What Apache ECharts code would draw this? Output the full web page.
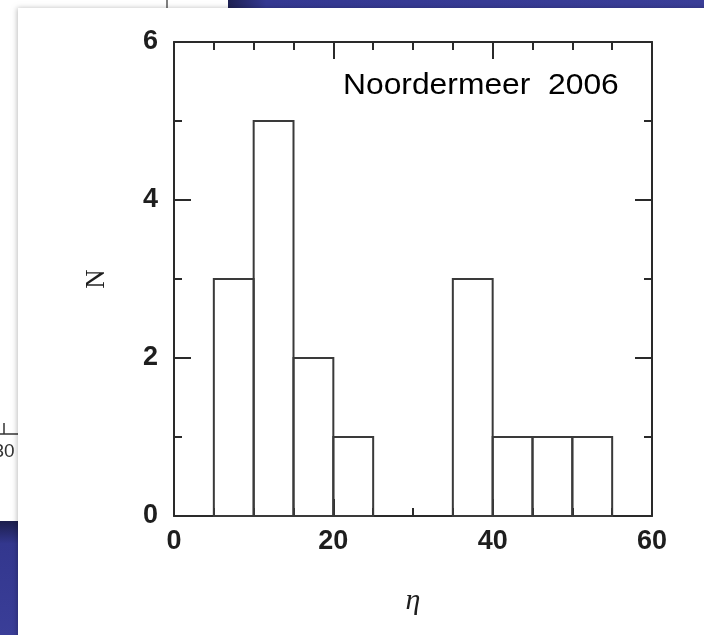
<!DOCTYPE html>
<html>
<head>
<meta charset="utf-8">
<title>Histogram of η</title>
<script src="https://cdn.jsdelivr.net/npm/echarts@6/dist/echarts.min.js"></script>
<style>
  html, body { margin: 0; padding: 0; background: #ffffff; }
  #chart { width: 704px; height: 635px; }
</style>
</head>
<body>
<div id="chart"></div>
<script>
// Histogram bins (η) and their counts N
var binStart = [5, 10, 15, 20, 35, 40, 45, 50];
var binEnd   = [10, 15, 20, 25, 40, 45, 50, 55];
var counts   = [3, 5, 2, 1, 3, 1, 1, 1];

// Axis ranges and tick labels
var xRange = [0, 60];
var xTickLabels = ['0', '20', '40', '60'];
var yRange = [0, 6];
var yTickLabels = ['0', '2', '4', '6'];

var sourceNote = 'Noordermeer  2006';

var bins = binStart.map(function (s, i) { return [s, binEnd[i], counts[i]]; });

var frameColor = '#2a2a2a';
var labelFont = 'Liberation Sans, Arial, Helvetica, sans-serif';

function xLabel(v) { var i = [0, 20, 40, 60].indexOf(v); return i >= 0 ? xTickLabels[i] : ''; }
function yLabel(v) { var i = [0, 2, 4, 6].indexOf(v); return i >= 0 ? yTickLabels[i] : ''; }

function axisCommon(extra) {
  var base = {
    type: 'value',
    axisLine: { show: true, onZero: false, lineStyle: { color: frameColor, width: 2 } },
    axisTick: { show: true, inside: true, length: 17, lineStyle: { color: frameColor, width: 2 } },
    minorTick: { show: true, length: 8, lineStyle: { color: frameColor, width: 2 } },
    splitLine: { show: false },
    minorSplitLine: { show: false }
  };
  for (var k in extra) base[k] = extra[k];
  return base;
}

var chart = echarts.init(document.getElementById('chart'), null, { renderer: 'canvas' });

chart.setOption({
  animation: false,
  backgroundColor: '#ffffff',
  grid: { left: 174, right: 52, top: 42, bottom: 119, containLabel: false },
  xAxis: [
    axisCommon({
      position: 'bottom',
      min: xRange[0], max: xRange[1], interval: 20,
      minorTick: { show: true, splitNumber: 4, length: 8, lineStyle: { color: frameColor, width: 2 } },
      axisLabel: {
        show: true, margin: 12, formatter: xLabel,
        color: '#1e1e1e', fontSize: 27, fontWeight: 'bold', fontFamily: labelFont
      },
      name: 'η', nameLocation: 'middle', nameGap: 70,
      nameTextStyle: { color: '#1e1e1e', fontSize: 30, fontStyle: 'italic', fontFamily: 'Liberation Serif, DejaVu Serif, serif' }
    }),
    axisCommon({
      position: 'top',
      min: xRange[0], max: xRange[1], interval: 20,
      minorTick: { show: true, splitNumber: 4, length: 8, lineStyle: { color: frameColor, width: 2 } },
      axisLabel: { show: false }
    })
  ],
  yAxis: [
    axisCommon({
      position: 'left',
      min: yRange[0], max: yRange[1], interval: 2,
      minorTick: { show: true, splitNumber: 2, length: 8, lineStyle: { color: frameColor, width: 2 } },
      axisLabel: {
        show: true, margin: 16, formatter: yLabel,
        color: '#1e1e1e', fontSize: 27, fontWeight: 'bold', fontFamily: labelFont
      },
      name: 'N', nameLocation: 'middle', nameGap: 64, nameRotate: 90,
      nameTextStyle: { color: '#1e1e1e', fontSize: 27, fontFamily: 'Liberation Serif, DejaVu Serif, serif' }
    }),
    axisCommon({
      position: 'right',
      min: yRange[0], max: yRange[1], interval: 2,
      minorTick: { show: true, splitNumber: 2, length: 8, lineStyle: { color: frameColor, width: 2 } },
      axisLabel: { show: false }
    })
  ],
  series: [{
    type: 'custom',
    xAxisIndex: 0,
    yAxisIndex: 0,
    data: bins,
    encode: { x: [0, 1], y: 2 },
    renderItem: function (params, api) {
      var topLeft = api.coord([api.value(0), api.value(2)]);
      var bottomRight = api.coord([api.value(1), 0]);
      return {
        type: 'rect',
        shape: {
          x: topLeft[0], y: topLeft[1],
          width: bottomRight[0] - topLeft[0],
          height: bottomRight[1] - topLeft[1]
        },
        style: { fill: 'rgba(0,0,0,0)', stroke: '#3a3a3a', lineWidth: 2 }
      };
    }
  }],
  graphic: [
    // slide backdrop behind the figure panel
    {
      type: 'rect', z: -20, silent: true,
      shape: { x: 228, y: 0, width: 476, height: 9 },
      style: {
        fill: new echarts.graphic.LinearGradient(0, 0, 1, 0, [
          { offset: 0, color: '#1d2052' },
          { offset: 0.08, color: '#343892' },
          { offset: 1, color: '#3a3e98' }
        ])
      }
    },
    {
      type: 'rect', z: -20, silent: true,
      shape: { x: 0, y: 521, width: 20, height: 114 },
      style: {
        fill: new echarts.graphic.LinearGradient(0, 0, 0, 1, [
          { offset: 0, color: '#1c1e4c' },
          { offset: 0.2, color: '#33378e' },
          { offset: 1, color: '#3a3e98' }
        ])
      }
    },
    {
      type: 'line', z: -20, silent: true,
      shape: { x1: 167, y1: 0, x2: 167, y2: 9 },
      style: { stroke: '#555555', lineWidth: 1.5 }
    },
    {
      type: 'line', z: -20, silent: true,
      shape: { x1: 0, y1: 434, x2: 20, y2: 434 },
      style: { stroke: '#333333', lineWidth: 1.5 }
    },
    {
      type: 'line', z: -20, silent: true,
      shape: { x1: 4, y1: 423, x2: 4, y2: 434 },
      style: { stroke: '#333333', lineWidth: 1.5 }
    },
    {
      type: 'text', z: -20, silent: true,
      x: 4, y: 452,
      style: {
        text: '30', fill: '#333333', font: '19px ' + labelFont,
        align: 'center', verticalAlign: 'middle'
      }
    },
    // white figure panel
    {
      type: 'rect', z: -10, silent: true,
      shape: { x: 18, y: 8, width: 700, height: 640 },
      style: { fill: '#ffffff', shadowBlur: 5, shadowColor: 'rgba(0,0,0,0.25)', shadowOffsetX: -1 }
    },
    // source note inside the plot
    {
      type: 'text', z: 10, silent: true,
      x: 343, y: 86, scaleX: 1.06, originX: 0,
      style: {
        text: sourceNote, fill: '#000000',
        font: '30px ' + labelFont,
        align: 'left', verticalAlign: 'middle'
      }
    }
  ]
});
</script>
</body>
</html>
